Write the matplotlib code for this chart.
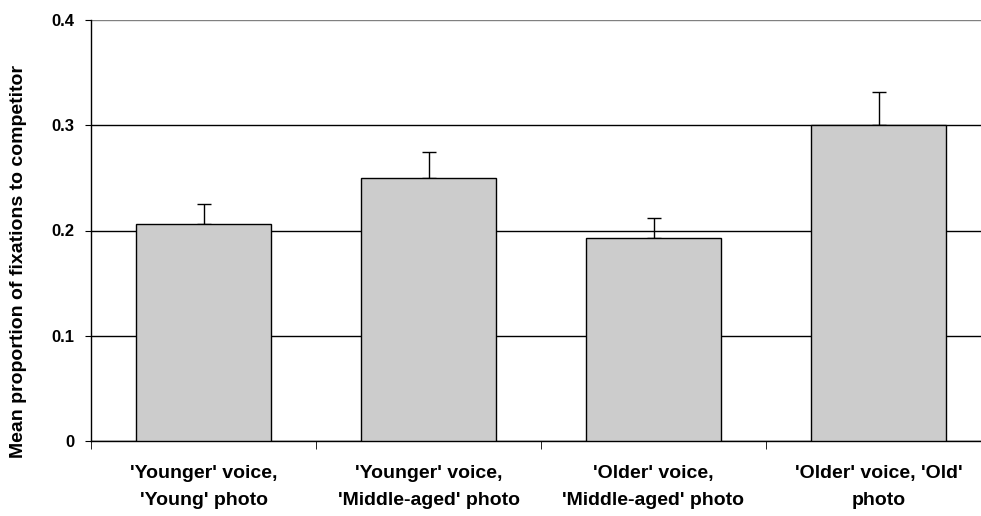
import numpy as np
import matplotlib
matplotlib.use("Agg")
import matplotlib.pyplot as plt

# values
categories = ["'Younger' voice,\n'Young' photo",
              "'Younger' voice,\n'Middle-aged' photo",
              "'Older' voice,\n'Middle-aged' photo",
              "'Older' voice, 'Old'\nphoto"]
means = [0.206, 0.250, 0.193, 0.300]
errors = [0.019, 0.025, 0.019, 0.032]
yticks = [0, 0.1, 0.2, 0.3, 0.4]
ytick_labels = ["0", "0.1", "0.2", "0.3", "0.4"]

plt.rcParams['font.family'] = ['Liberation Sans', 'DejaVu Sans']
plt.rcParams['font.weight'] = 'bold'

W, H = 981, 516
fig = plt.figure(figsize=(W / 100, H / 100), dpi=100)
# plot area runs a little past the right edge, like the original
ax = fig.add_axes([91 / W, (H - 441) / H, 900 / W, 421 / H])

x = np.arange(len(categories))
ax.bar(x, means, width=0.6, color='#cccccc', edgecolor='black', linewidth=1, zorder=3)
ax.errorbar(x, means, yerr=[np.zeros(len(errors)), errors], fmt='none',
            ecolor='black', elinewidth=1, capsize=5, capthick=1, zorder=2)

ax.set_xlim(-0.5, len(categories) - 0.5)
ax.set_ylim(0, 0.4)
ax.set_yticks(yticks)
ax.set_yticklabels(ytick_labels, fontsize=12, fontweight='bold')
ax.yaxis.grid(True, color='black', linewidth=1, zorder=0)
ax.get_ygridlines()[-1].set_color('#808080')
ax.set_axisbelow(True)

# category labels centred, tick marks at the category boundaries
ax.set_xticks(x)
ax.set_xticklabels(categories, fontsize=14, fontweight='bold', linespacing=1.8)
ax.tick_params(axis='x', length=0, pad=17)
ax.set_xticks(np.arange(-0.5, len(categories) + 0.5, 1), minor=True)
ax.tick_params(axis='x', which='minor', length=6, direction='out', color='black')
ax.tick_params(axis='y', length=4, direction='out', color='black', pad=8)

for s in ['top', 'right']:
    ax.spines[s].set_visible(False)
ax.spines['left'].set_linewidth(1)
ax.spines['bottom'].set_linewidth(1)

# y label sits a bit lower than the plot centre in the original
fig.text(19 / W, 1 - 261 / H, 'Mean proportion of fixations to competitor',
         rotation=90, ha='center', va='center', fontsize=14, fontweight='bold')

fig.savefig('out.png', dpi=100)
